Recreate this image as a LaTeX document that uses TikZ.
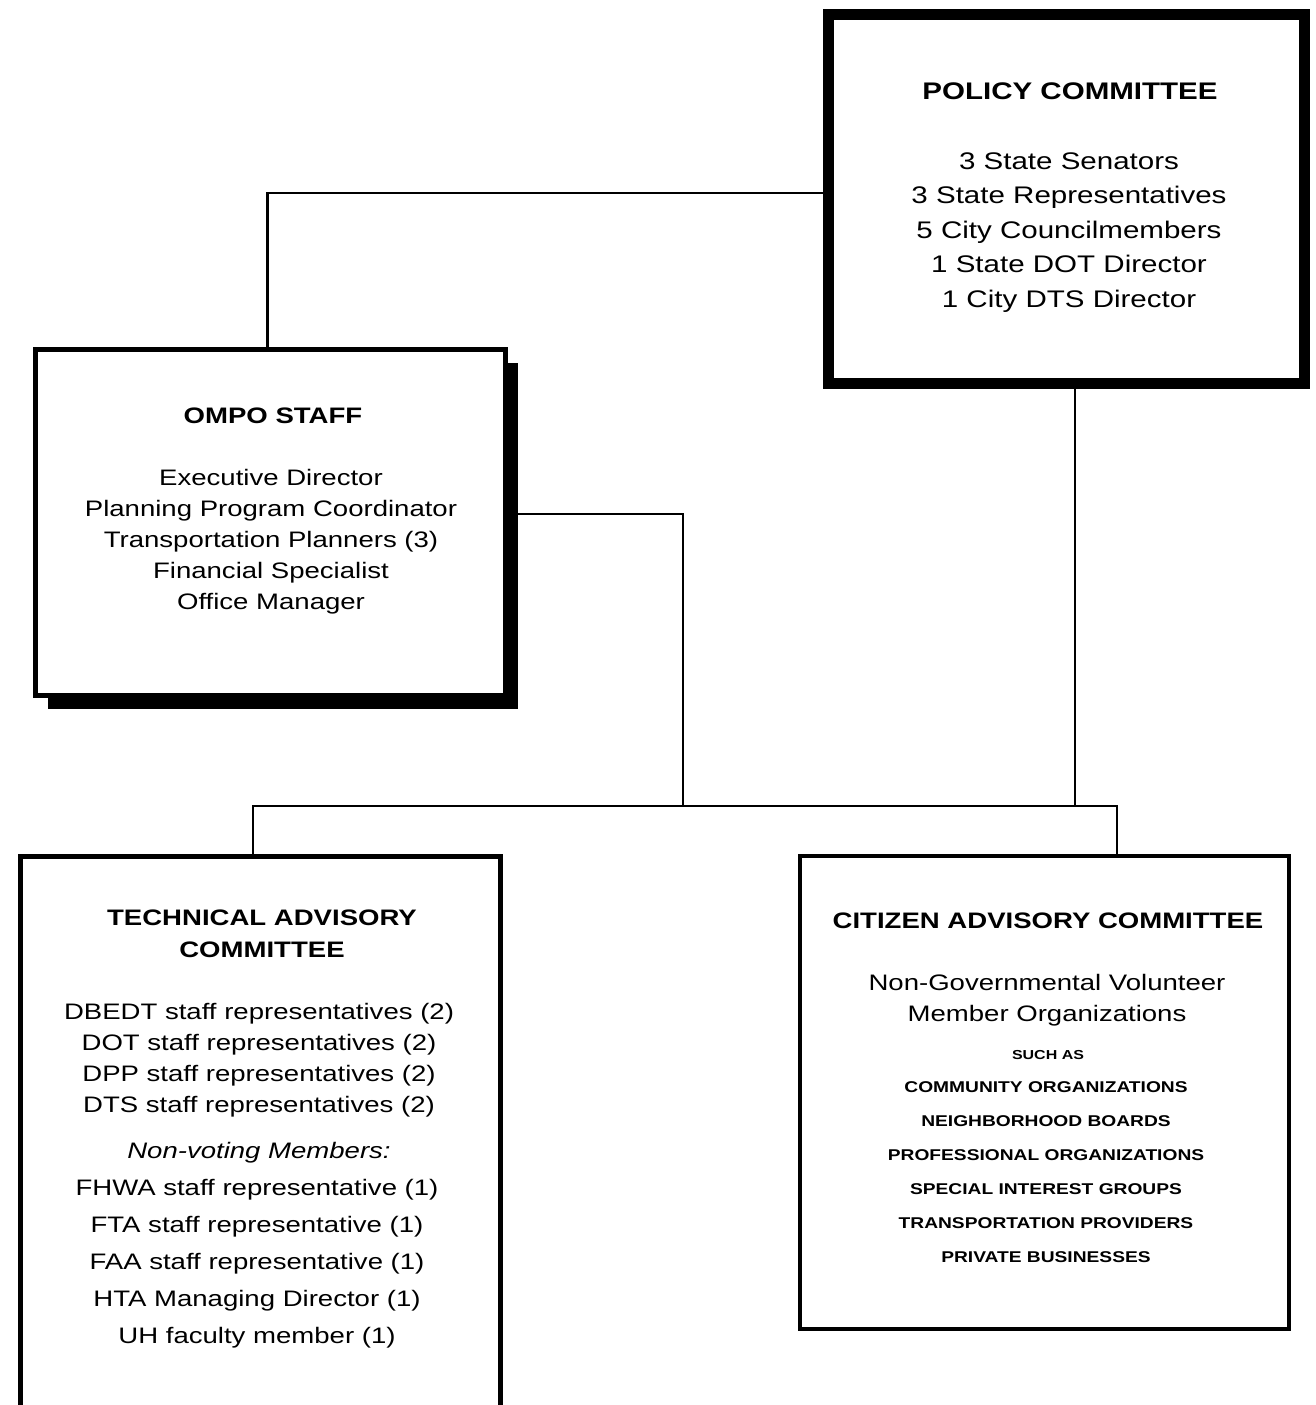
\documentclass[tikz,border=0pt]{standalone}
\usepackage{fontspec}
\setmainfont{Liberation Sans}[FakeStretch=1.23]
\begin{document}
\begin{tikzpicture}[x=0.5pt,y=-0.5pt,
  txt/.style={anchor=north, align=center, inner sep=0pt},
  conn/.style={line width=1.2pt}]
\useasboundingbox (0,0) rectangle (1316,1405);
\clip (0,0) rectangle (1316,1405);
\fill[white] (0,0) rectangle (1316,1405);

% Policy committee
\node[draw, line width=5.5pt, minimum width=238pt, minimum height=184.5pt, inner sep=0pt] (pol) at (1066,198.5) {};
\node[txt, font=\bfseries\fontsize{12}{14}\selectfont] (polT) at (1070,82) {POLICY COMMITTEE};
\node[txt, font=\fontsize{12}{17.25}\selectfont] (polB) at (1069,152) {3 State Senators\\3 State Representatives\\5 City Councilmembers\\1 State DOT Director\\1 City DTS Director};

% OMPO staff with shadow
\node[fill=black, minimum width=235pt, minimum height=173pt, inner sep=0pt] (ompoS) at (283,536) {};
\node[draw, fill=white, line width=2.5pt, minimum width=235pt, minimum height=173pt, inner sep=0pt] (ompo) at (270,522) {};
\node[txt, font=\bfseries\fontsize{11.2}{14}\selectfont] (ompoT) at (273,407) {OMPO STAFF};
\node[txt, font=\fontsize{11.2}{15.5}\selectfont] (ompoB) at (271,469) {Executive Director\\Planning Program Coordinator\\Transportation Planners (3)\\Financial Specialist\\Office Manager};

% Technical advisory committee (runs off the page)
\node[draw, line width=2.5pt, minimum width=240pt, minimum height=312pt, inner sep=0pt] (tac) at (260,1168) {};
\node[txt, font=\bfseries\fontsize{11.2}{16}\selectfont] (tacT) at (262,909) {TECHNICAL ADVISORY\\COMMITTEE};
\node[txt, font=\fontsize{11.2}{15.5}\selectfont] (tacB) at (259,1003) {DBEDT staff representatives (2)\\DOT staff representatives (2)\\DPP staff representatives (2)\\DTS staff representatives (2)};
\node[txt, font=\itshape\fontsize{11.2}{14}\selectfont] (tacN) at (259,1142) {Non-voting Members:};
\node[txt, font=\fontsize{11.2}{18.5}\selectfont] (tacC) at (257,1179) {FHWA staff representative (1)\\FTA staff representative (1)\\FAA staff representative (1)\\HTA Managing Director (1)\\UH faculty member (1)};

% Citizen advisory committee
\node[draw, line width=2pt, minimum width=244.5pt, minimum height=236.5pt, inner sep=0pt] (cac) at (1044.5,1092.5) {};
\node[txt, font=\bfseries\fontsize{11.2}{14}\selectfont] (cacT) at (1048,912) {CITIZEN ADVISORY COMMITTEE};
\node[txt, font=\fontsize{11.2}{15.5}\selectfont] (cacS) at (1047,974) {Non-Governmental Volunteer\\Member Organizations};
\node[txt, font=\bfseries\fontsize{6.5}{8}\selectfont] (cacA) at (1048,1050) {SUCH AS};
\node[txt, font=\bfseries\fontsize{7.8}{17}\selectfont] (cacL) at (1046,1081) {COMMUNITY ORGANIZATIONS\\NEIGHBORHOOD BOARDS\\PROFESSIONAL ORGANIZATIONS\\SPECIAL INTEREST GROUPS\\TRANSPORTATION PROVIDERS\\PRIVATE BUSINESSES};

% connectors
\coordinate (bus) at (683,806);
\draw[conn] ([yshift=2.75pt]pol.west) -| ([xshift=-1.25pt]ompo.north);
\draw[conn] ([yshift=11pt]ompoS.east) -| (bus);
\draw[conn] ([xshift=4.5pt]pol.south) -- ([xshift=4.5pt]pol.south |- bus);
\draw[conn] ([xshift=-3.5pt]tac.north) |- (bus) -| ([xshift=36.25pt]cac.north);
\end{tikzpicture}
\end{document}
